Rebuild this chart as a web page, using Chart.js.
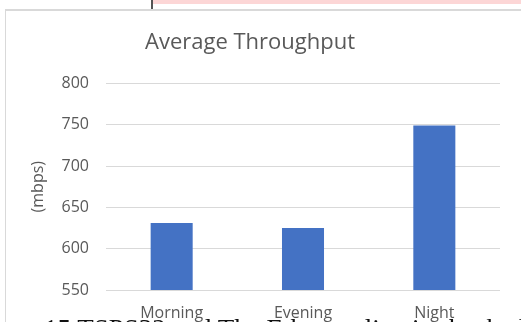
<!DOCTYPE html>
<html>
<head>
<meta charset="utf-8">
<script src="https://cdn.jsdelivr.net/npm/chart.js@4"></script>
<style>
  html, body { margin: 0; padding: 0; background: #fff; overflow: hidden; }
  #wrap { position: relative; width: 521px; height: 322px; }
  #topBand { position: absolute; left: 153px; top: 0; width: 368px; height: 4px; background: #fcd6d6; }
  #topTick { position: absolute; left: 151px; top: 0; width: 2px; height: 9px; background: #555; }
  #frame { position: absolute; left: 5px; top: 9px; width: 530px; height: 330px; border: 1px solid #d9d9d9; border-top-width: 2px; box-sizing: border-box; }
  #chartBox { position: absolute; left: 0; top: 0; width: 521px; height: 322px; }
  #pageText { position: absolute; left: 44px; top: 314px; font: 27px "Liberation Serif", serif; color: #111; white-space: nowrap; }
</style>
</head>
<body>
<div id="wrap">
  <div id="topBand"></div>
  <div id="topTick"></div>
  <div id="frame"></div>
  <div id="chartBox"><canvas id="chart"></canvas></div>
  <div id="pageText">15 TSPS32 and The Ethernet line is checked</div>
</div>
<script>
// data
const categories = ["Morning", "Evening", "Night"];
const throughput = [631, 625, 749];
const yTicks = [550, 600, 650, 700, 750, 800];

const textColor = "#595959";

new Chart(document.getElementById("chart"), {
    type: "bar",
    data: {
        labels: categories,
        datasets: [
            {
                label: "Average Throughput",
                data: throughput,
                backgroundColor: "#4472C4",
                borderWidth: 0,
                barPercentage: 0.32,
                categoryPercentage: 1,
            },
        ],
    },
    options: {
        responsive: true,
        maintainAspectRatio: false,
        animation: false,
        layout: { padding: { left: 0, right: 21, top: 0, bottom: 0 } },
        scales: {
            y: {
                min: yTicks[0],
                max: yTicks[yTicks.length - 1],
                afterBuildTicks: (scale) => {
                    scale.ticks = yTicks.map((v) => ({ value: v }));
                },
                afterFit: (scale) => {
                    scale.width = 106;
                },
                title: {
                    display: true,
                    text: "(mbps)",
                    color: textColor,
                    font: { family: "Open Sans", size: 16 },
                    padding: { top: 29, bottom: 0 },
                },
                ticks: { color: textColor, font: { family: "Open Sans", size: 16 }, padding: 17 },
                grid: { color: "#d9d9d9", lineWidth: 1, drawTicks: false },
                border: { display: false },
            },
            x: {
                afterFit: (scale) => {
                    scale.height = 32;
                },
                ticks: { color: textColor, font: { family: "Open Sans", size: 16 }, padding: 14 },
                grid: { display: false, drawTicks: false },
                border: { display: false },
            },
        },
        plugins: {
            legend: { display: false },
            tooltip: { enabled: false },
            title: {
                display: true,
                text: "Average Throughput",
                color: textColor,
                font: { family: "Open Sans", size: 22, weight: "normal" },
                padding: { top: 30, bottom: 27 },
            },
        },
    },
});
</script>
</body>
</html>
